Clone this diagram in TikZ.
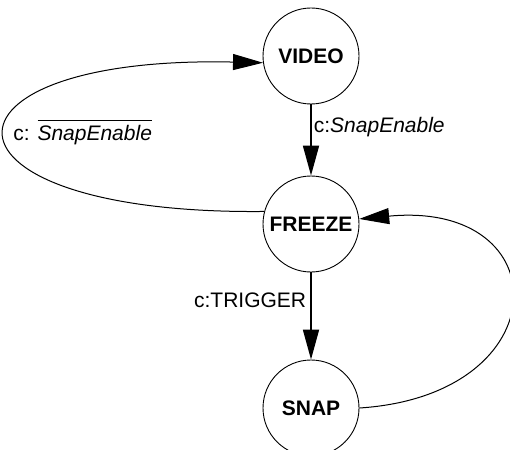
\documentclass[tikz,border=0pt]{standalone}
\usepackage{fontspec}
\setmainfont{Liberation Sans}
\usetikzlibrary{arrows.meta, positioning, calc}
\newcommand{\negated}[1]{\vbox{\hrule height 1pt \kern 5pt \hbox{#1}}}
\tikzset{
    state/.style={circle, draw, line width=0.9pt, minimum size=96pt, inner sep=0pt,
                  font=\fontsize{21}{25}\selectfont\bfseries},
    trans/.style={-{Triangle[length=30pt,width=16pt]}, line width=1.8pt},
    backtrans/.style={-{Triangle[length=30pt,width=16pt]}, line width=1pt},
    cond/.style={font=\fontsize{21}{25}\selectfont, inner sep=0pt}
}
\begin{document}
\begin{tikzpicture}[x=1pt, y=-1pt]
    \useasboundingbox (0,0) rectangle (510,449);

    % States
    \node[state] (video) at (311,56) {VIDEO};
    \node[state] (freeze) at (311,224) {FREEZE};
    \node[state] (snap) at (311,408) {SNAP};

    % Forward transitions
    \draw[trans] (video) -- (freeze)
        node[pos=0.32, anchor=west, xshift=2pt, cond] {c:\textit{SnapEnable}};
    \draw[trans] (freeze) -- (snap)
        node[pos=0.32, anchor=east, xshift=-4pt, cond] {c:TRIGGER};

    % Back transitions
    \draw[backtrans] (freeze.165) .. controls (-80,215) and (-80,55) .. (video.188)
        node[pos=0.5, anchor=west, xshift=7pt, yshift=3pt, cond] {c: \negated{\textit{SnapEnable}}};
    \draw[backtrans] (snap.east) .. controls (560,395) and (560,200) .. (freeze.6);
\end{tikzpicture}
\end{document}
